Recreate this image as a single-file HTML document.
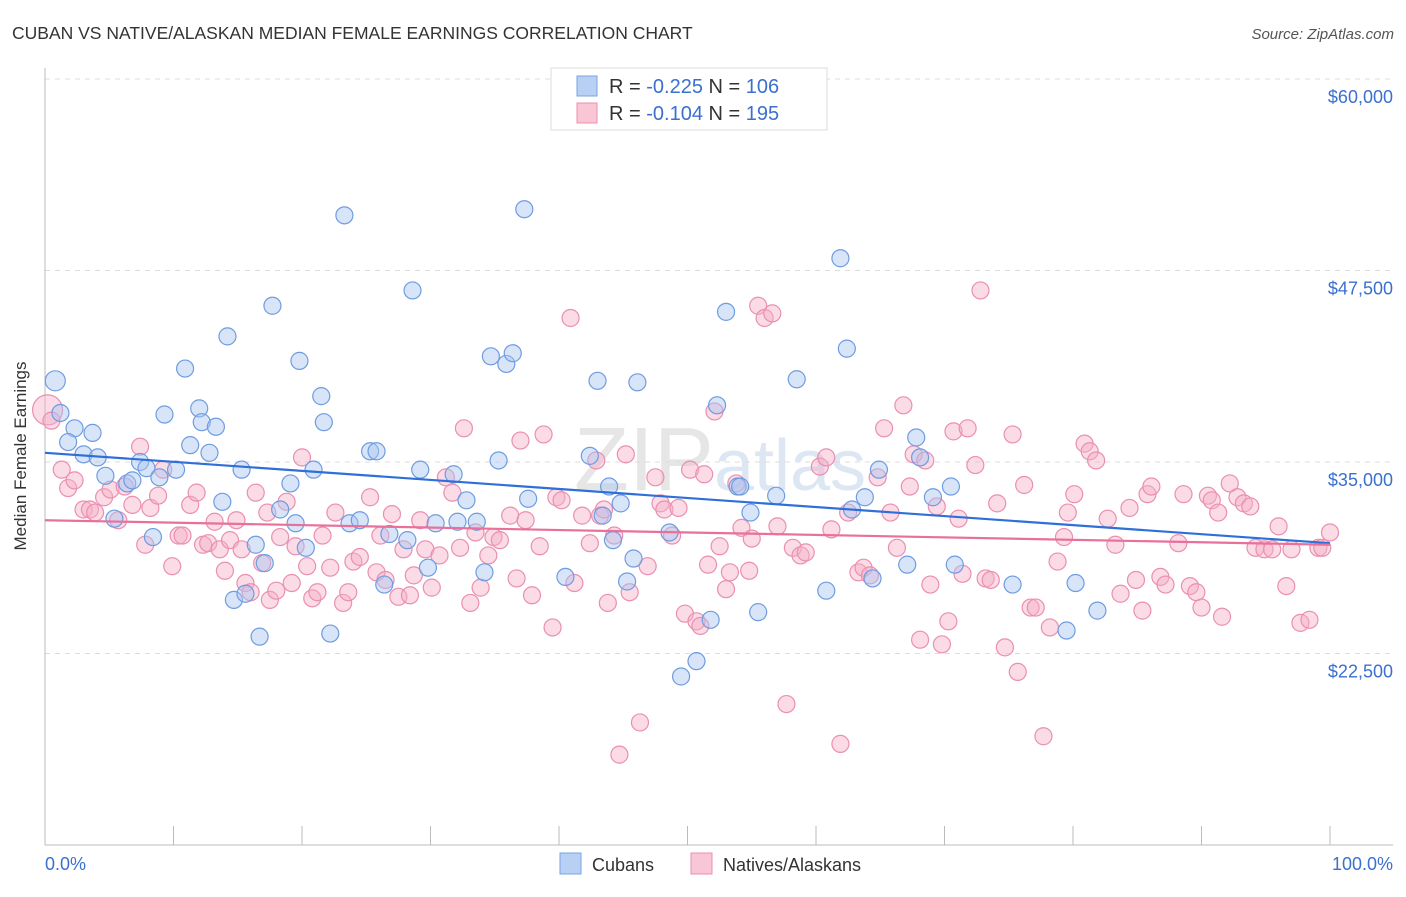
<!DOCTYPE html>
<html><head><meta charset="utf-8">
<style>
body{margin:0;background:#fff;font-family:"Liberation Sans",sans-serif;}
svg text{font-family:"Liberation Sans",sans-serif;}
</style></head>
<body>
<svg id="chart" width="1406" height="892" viewBox="0 0 1406 892">
<text x="12" y="39" font-size="17.5" fill="#333">CUBAN VS NATIVE/ALASKAN MEDIAN FEMALE EARNINGS CORRELATION CHART</text>
<text x="1394" y="39" font-size="15" fill="#555" text-anchor="end" font-style="italic">Source: ZipAtlas.com</text>
<text x="720" y="490" font-size="90" fill="#e6e6e6" text-anchor="middle" font-family="Liberation Serif">ZIP<tspan font-family="Liberation Sans" font-size="72" fill="#dde6f3">atlas</tspan></text>
<g id="grid"></g>
<g id="axes"></g>
<g id="pinkPts"></g>
<g id="bluePts"></g>
<g id="trends"></g>
<text x="26" y="456" font-size="17" fill="#333" text-anchor="middle" transform="rotate(-90 26 456)">Median Female Earnings</text>
<text x="45" y="870" font-size="18" fill="#3b6fd0">0.0%</text>
<text x="1393" y="870" font-size="18" fill="#3b6fd0" text-anchor="end">100.0%</text>
<g>
<rect x="551" y="68" width="276" height="62" fill="#fff" stroke="#ddd"/>
<rect x="577" y="76" width="20" height="20" fill="#b9d0f5" stroke="#7aa3e0"/>
<rect x="577" y="103" width="20" height="20" fill="#f9c6d6" stroke="#eb8fb0"/>
<text x="609" y="93" font-size="20" fill="#333">R = <tspan fill="#3b6fd0">-0.225</tspan>   N = <tspan fill="#3b6fd0">106</tspan></text>
<text x="609" y="120" font-size="20" fill="#333">R = <tspan fill="#3b6fd0">-0.104</tspan>   N = <tspan fill="#3b6fd0">195</tspan></text>
</g>
<g>
<rect x="560" y="853" width="21" height="21" fill="#b9d0f5" stroke="#7aa3e0"/>
<text x="592" y="871" font-size="18" fill="#333">Cubans</text>
<rect x="691" y="853" width="21" height="21" fill="#f9c6d6" stroke="#eb8fb0"/>
<text x="723" y="871" font-size="18" fill="#333">Natives/Alaskans</text>
</g>
</svg>
<script>
const yTicks=[22500,35000,47500,60000];
const yTickLabels=["$22,500","$35,000","$47,500","$60,000"];
const xTicks=[0,10,20,30,40,50,60,70,80,90,100];
const blueX=[0.8,1.2,2.3,1.8,3.7,3.0,4.1,4.7,5.4,6.4,6.8,7.4,7.9,8.9,10.2,8.4,9.3,10.9,11.3,12.0,12.2,12.8,13.3,14.2,13.8,15.3,14.7,15.6,16.4,16.7,17.1,17.7,18.3,19.1,19.5,19.8,20.3,20.9,21.5,21.7,22.2,23.3,23.7,24.5,25.3,25.8,26.4,26.8,28.2,28.6,29.2,29.8,30.4,31.8,32.1,32.8,33.6,34.2,34.7,35.3,35.9,36.4,37.3,37.6,40.5,42.4,43.0,43.4,43.9,44.2,44.8,45.3,45.8,46.1,48.6,49.5,50.7,51.8,52.3,53.0,53.9,54.1,54.9,55.5,56.9,58.5,60.8,61.9,62.4,62.8,63.8,64.4,64.9,67.1,67.8,68.1,69.1,70.5,70.8,75.3,79.5,80.2,81.9];
const blueY=[40.3,38.2,37.2,36.3,36.9,35.5,35.3,34.1,31.3,33.6,33.8,35.0,34.6,34.0,34.5,30.1,38.1,41.1,36.1,38.5,37.6,35.6,37.3,43.2,32.4,34.5,26.0,26.4,29.6,23.6,28.4,45.2,31.9,33.6,31.0,41.6,29.4,34.5,39.3,37.6,23.8,51.1,31.0,31.2,35.7,35.7,27.0,30.3,29.9,46.2,34.5,28.1,31.0,34.2,31.1,32.5,31.1,27.8,41.9,35.1,41.4,42.1,51.5,32.6,27.5,35.4,40.3,31.5,33.4,29.9,32.3,27.2,28.7,40.2,30.4,21.0,22.0,24.7,38.7,44.8,33.4,33.4,31.7,25.2,32.8,40.4,26.6,48.3,42.4,31.9,32.7,27.4,34.5,28.3,36.6,35.3,32.7,33.4,28.3,27.0,24.0,27.1,25.3];
const pinkX=[0.2,0.5,1.3,1.8,2.3,3.0,3.5,3.9,4.6,5.1,5.7,6.2,6.8,7.4,7.8,8.2,8.8,9.2,9.9,10.4,10.7,11.3,11.8,12.3,12.7,13.2,13.6,14.0,14.4,14.9,15.3,15.6,16.0,16.4,16.9,17.3,17.5,18.0,18.3,18.8,19.2,19.5,20.0,20.4,20.8,21.2,21.6,22.2,22.6,23.2,23.6,24.0,24.5,25.3,25.8,26.1,26.5,27.0,27.5,27.9,28.4,28.7,29.2,29.6,30.1,30.7,31.2,31.7,32.3,32.6,33.1,33.5,33.9,34.5,34.9,35.4,36.2,36.7,37.0,37.4,37.9,38.5,38.8,39.5,39.8,40.2,40.9,41.2,41.8,42.4,42.9,43.2,43.5,43.8,44.3,44.7,45.2,45.5,46.3,46.9,47.5,47.9,48.2,48.8,49.3,49.8,50.2,50.7,51.0,51.3,51.6,52.1,52.5,53.0,53.3,53.8,54.2,54.8,55.0,55.5,56.0,56.6,57.0,57.7,58.2,58.8,59.2,60.3,60.8,61.2,61.9,62.5,63.3,63.7,64.2,64.8,65.3,65.8,66.3,66.8,67.3,67.6,68.1,68.5,68.9,69.4,69.8,70.3,70.7,71.1,71.4,71.8,72.4,72.8,73.2,73.6,74.1,74.7,75.3,75.7,76.2,76.7,77.1,77.7,78.2,78.8,79.3,79.6,80.1,80.9,81.3,81.8,82.7,83.3,83.7,84.4,84.9,85.4,85.8,86.1,86.8,87.2,88.2,88.6,89.1,89.6,90.0,90.5,90.8,91.3,91.6,92.2,92.8,93.3,93.8,94.2,94.9,95.5,96.0,96.6,97.0,97.7,98.4,99.1,99.4,100.0];
const pinkY=[38.4,37.7,34.5,33.3,33.8,31.9,31.9,31.7,32.7,33.2,31.2,33.4,32.2,36.0,29.6,32.0,32.8,34.5,28.2,30.2,30.2,32.2,33.0,29.6,29.7,31.1,29.3,27.9,29.9,31.2,29.3,27.1,26.5,33.0,28.4,31.7,26.0,26.6,30.1,32.4,27.1,29.5,35.3,28.2,26.1,26.5,30.2,28.1,31.7,25.8,26.5,28.5,28.8,32.7,27.8,30.2,27.3,31.6,26.2,29.3,26.3,27.6,31.2,29.3,26.8,28.9,34.0,33.0,29.4,37.2,25.8,30.4,26.8,28.9,30.1,29.9,31.5,27.4,36.4,31.2,26.3,29.5,36.8,24.2,32.7,32.5,44.4,27.1,31.5,29.7,35.1,31.5,31.9,25.8,30.2,15.9,35.5,26.5,18.0,28.2,34.0,32.3,31.9,30.2,32.0,25.1,34.5,24.6,24.3,34.2,28.3,38.3,29.5,26.7,27.8,33.6,30.7,27.9,30.0,45.2,44.4,44.7,30.8,19.2,29.4,28.9,29.1,34.7,35.3,30.6,16.6,31.7,27.8,28.1,27.6,34.0,37.2,31.7,29.4,38.7,33.4,35.5,23.4,35.1,27.0,32.1,23.1,24.6,37.0,31.3,27.7,37.2,34.8,46.2,27.4,27.3,32.3,22.9,36.8,21.3,33.5,25.5,25.5,17.1,24.2,28.5,30.1,31.7,32.9,36.2,35.7,35.1,31.3,29.6,26.4,32.0,27.3,25.3,32.9,33.4,27.5,27.0,29.7,32.9,26.9,26.5,25.5,32.8,32.5,31.7,24.9,33.6,32.7,32.3,32.1,29.4,29.3,29.3,30.8,26.9,29.3,24.5,24.7,29.4,29.4,30.4];
const blueTrend=[35.6,29.7];
const pinkTrend=[31.2,29.6];
const NS="http://www.w3.org/2000/svg";
const X0=45,X1=1330,XR=1393,YTOP=68,YBOT=845;
function sx(p){return X0+(X1-X0)*p/100;}
function sy(v){return 79+(60000-v)*191.5/12500;}
function mk(tag,attrs,parent){const e=document.createElementNS(NS,tag);for(const k in attrs)e.setAttribute(k,attrs[k]);parent.appendChild(e);return e;}
const grid=document.getElementById('grid'),axes=document.getElementById('axes');
yTicks.forEach((t,i)=>{
 const l=mk('line',{x1:X0,x2:XR,y1:sy(t),y2:sy(t),stroke:'#dcdcdc','stroke-dasharray':'5,5'},grid);
 
 
 const tx=mk('text',{x:1393,y:sy(t)+24,'font-size':18,fill:'#3b6fd0','text-anchor':'end'},grid);
 tx.textContent=yTickLabels[i];
 
 
});
let a=mk('line',{x1:X0,x2:X0,y1:YTOP,y2:YBOT,stroke:'#bbb'},axes);


a=mk('line',{x1:X0,x2:XR,y1:YBOT,y2:YBOT,stroke:'#bbb'},axes);


xTicks.forEach(t=>{
 const l=mk('line',{x1:sx(t),x2:sx(t),y1:826,y2:YBOT,stroke:'#bbb'},axes);
 
 
});
function pts(xs,ys,g,fill,stroke,name,bigIdx,bigR){
 xs.forEach((x,i)=>{
  const r=(i===bigIdx)?bigR:8.5;
  const c=mk('circle',{cx:sx(x),cy:sy(ys[i]*1000),r:r,fill:fill,'fill-opacity':0.45,stroke:stroke,'stroke-width':1.2},g);
  
  
 });
}
pts(pinkX,pinkY,document.getElementById('pinkPts'),'#f5b0c7','#eb8fb0','native-point',0,15);
pts(blueX,blueY,document.getElementById('bluePts'),'#a9c5f2','#6f9ce0','cuban-point',0,10);
const tr=document.getElementById('trends');
let t1=mk('line',{x1:sx(0),x2:sx(100),y1:sy(blueTrend[0]*1000),y2:sy(blueTrend[1]*1000),stroke:'#2e6fd8','stroke-width':2.2},tr);


let t2=mk('line',{x1:sx(0),x2:sx(100),y1:sy(pinkTrend[0]*1000),y2:sy(pinkTrend[1]*1000),stroke:'#e8709a','stroke-width':2.2},tr);


</script>
</body></html>
